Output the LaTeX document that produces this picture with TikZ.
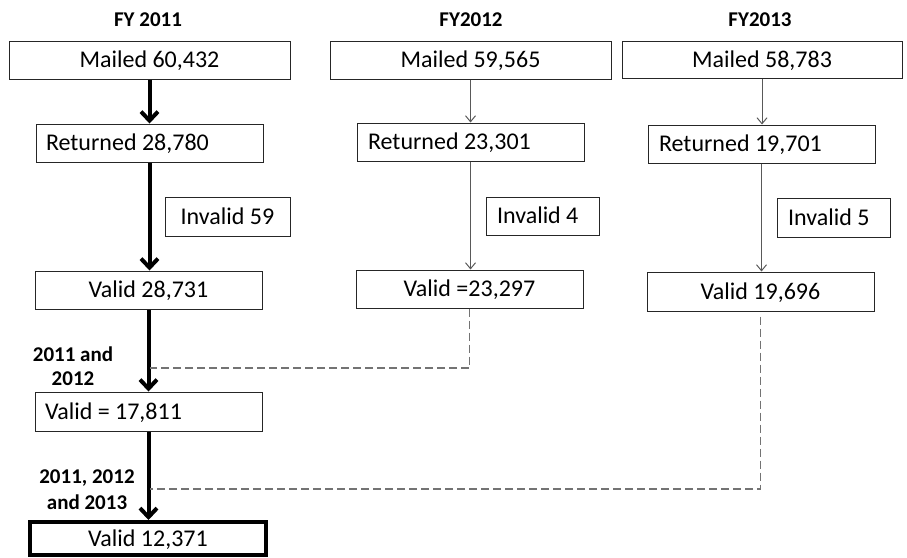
\documentclass[tikz,border=0pt]{standalone}
\usepackage{fontspec}
\setmainfont{Carlito}
\usetikzlibrary{arrows.meta}
\begin{document}
\begin{tikzpicture}[x=1pt,y=-1pt,
  box/.style={draw=black!85, line width=1pt, minimum height=38pt, inner sep=0pt,
    font=\fontsize{24}{29}\selectfont, text height=15.5pt, text depth=0pt},
  thickarr/.style={line width=4pt, black, -{Straight Barb[length=9pt,width=17pt]}},
  thinarr/.style={line width=1pt, black!65, -{Straight Barb[length=6pt,width=10pt]}},
  dashln/.style={line width=1.2pt, black!55, dash pattern=on 8pt off 4pt},
  lbl/.style={font=\bfseries\fontsize{21}{24}\selectfont, align=center, inner sep=0pt}]
\useasboundingbox (0,0) rectangle (907,557);
% titles
\node[lbl] (t1) at (148,20) {FY 2011};
\node[lbl] (t2) at (471,20) {FY2012};
\node[lbl] (t3) at (760,20) {FY2013};
% FY2011
\node[box, minimum width=281pt] (m1) at (149.5,60) {Mailed 60,432};
\node[box, minimum width=227pt] (r1) at (149.5,143) {\makebox[207pt][l]{Returned 28,780}};
\node[box, minimum width=125pt, minimum height=39pt] (i1) at (227.5,216.5) {Invalid 59};
\node[box, minimum width=227pt] (v1) at (148.5,290) {Valid 28,731};
\node[box, minimum width=227pt, minimum height=39pt] (c1) at (148.5,411.5) {\makebox[207pt][l]{Valid = 17,811}};
\node[box, draw=black, line width=4pt, minimum width=236pt, minimum height=33pt] (f) at (148,538.5) {Valid 12,371};
% FY2012
\node[box, minimum width=281pt] (m2) at (470.5,60) {Mailed 59,565};
\node[box, minimum width=227pt] (r2) at (470.5,142) {\makebox[205pt][l]{Returned 23,301}};
\node[box, minimum width=113pt] (i2) at (542.5,216) {\makebox[91pt][l]{Invalid 4}};
\node[box, minimum width=227pt] (v2) at (469.5,289) {Valid =23,297};
% FY2013
\node[box, minimum width=280pt, minimum height=37pt] (m3) at (762,59.5) {Mailed 58,783};
\node[box, minimum width=227pt] (r3) at (761.5,144) {\makebox[205pt][l]{Returned 19,701}};
\node[box, minimum width=113pt, minimum height=39pt] (i3) at (833.5,217.5) {\makebox[91pt][l]{Invalid 5}};
\node[box, minimum width=227pt, minimum height=39pt] (v3) at (760.5,291.5) {Valid 19,696};
% side labels
\node[lbl] (l1) at (73,366) {2011 and\\2012};
\node[lbl, font=\bfseries\fontsize{21}{26}\selectfont] (l2) at (87,490) {2011, 2012\\and 2013};
% thick arrows
\draw[thickarr] (m1.south) -- (r1.north);
\draw[thickarr] (r1.south) -- (r1.south |- v1.north);
\draw[thickarr] (v1.south) -- (c1.north);
\draw[thickarr] (c1.south) -- (c1.south |- f.north);
% thin arrows
\draw[thinarr] (m2.south) -- (m2.south |- r2.north);
\draw[thinarr] (r2.south) -- (r2.south |- v2.north);
\draw[thinarr] (m3.south) -- (m3.south |- r3.north);
\draw[thinarr] (r3.south) -- (r3.south |- v3.north);
% dashed joins
\coordinate (j1) at (150,368);
\coordinate (j2) at (150,489);
\draw[dashln] (v2.south) |- (j1);
\draw[dashln] ([yshift=-5pt]v3.south) |- (j2);
\end{tikzpicture}
\end{document}
